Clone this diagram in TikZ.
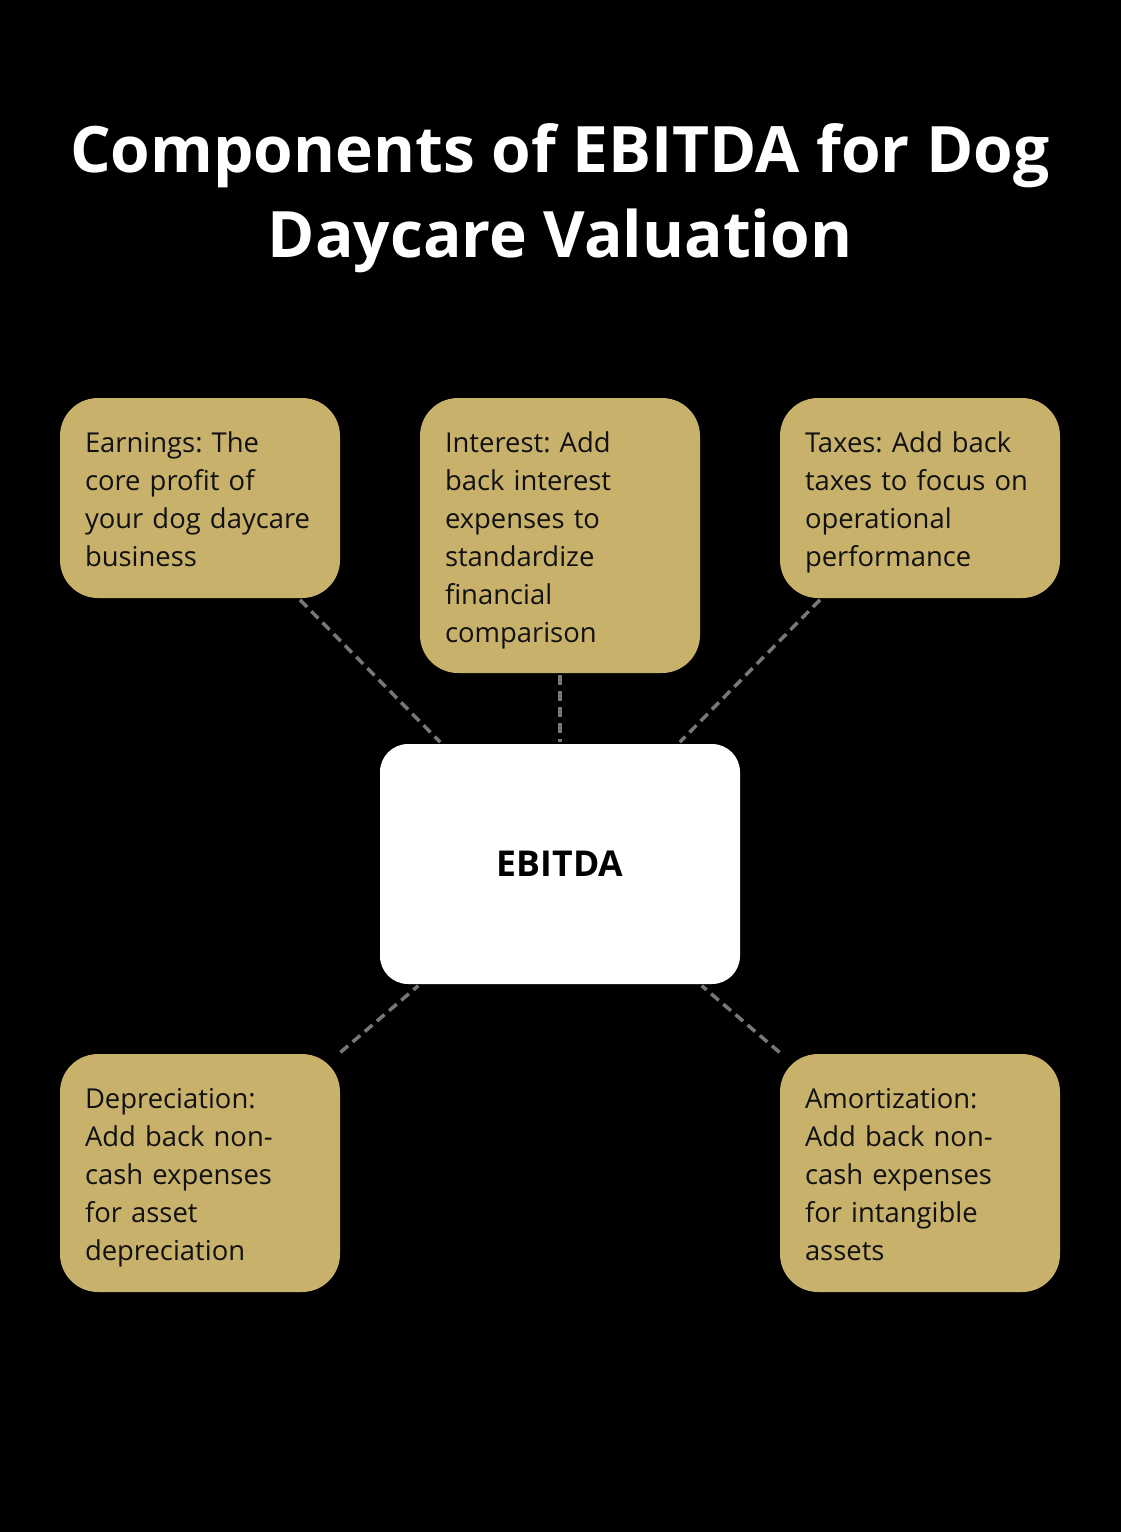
\documentclass[tikz,border=0pt]{standalone}
\usepackage{fontspec}
\setmainfont{Open Sans}
\frenchspacing
\definecolor{gold}{HTML}{C8B16B}
\definecolor{ink}{HTML}{111111}
\definecolor{dashgray}{HTML}{777777}
\def\topstrut{\rule{0pt}{17.3pt}}
\tikzset{
  part/.style = {fill=gold,text=ink,rounded corners=19pt,align=left,
    text width=115pt,inner xsep=12.5pt,inner ysep=0pt,minimum width=140pt,
    font=\fontsize{13.7}{19}\selectfont},
  core/.style = {fill=white,text=black,rounded corners=14pt,
    minimum width=180pt,minimum height=120pt,
    font=\bfseries\fontsize{17.8}{22}\selectfont},
  link/.style = {draw=dashgray,line width=1.75pt,dash pattern=on 5pt off 3pt,
    shorten <=1pt,shorten >=1pt}
}

\begin{document}
\begin{tikzpicture}[x=0.5pt,y=-0.5pt]
  % background
  \useasboundingbox (0,0) rectangle (1120,1532);
  \fill[black] (-20,-20) rectangle (1140,1552);
  % title
  \node[text=white,align=center,font=\bfseries\fontsize{32}{42.5}\selectfont] (title) at (560,198)
    {Components of EBITDA for Dog\\Daycare Valuation};
  % centre
  \node[core] (ebitda) at (560,864) {EBITDA};
  % top row
  \node[part,minimum height=100pt] (earnings) at (200,498)
    {\topstrut Earnings: The\\core profit of\\your dog daycare\\business\strut};
  \node[part,minimum height=137.5pt] (interest) at (560,535.5)
    {\topstrut Interest: Add\\back interest\\expenses to\\standardize\\financial\\comparison\strut};
  \node[part,minimum height=100pt] (taxes) at (920,498)
    {\topstrut Taxes: Add back\\taxes to focus on\\operational\\performance\strut};
  % bottom row
  \node[part,minimum height=119pt] (depreciation) at (200,1173)
    {\topstrut Depreciation:\\Add back non-\\cash expenses\\for asset\\depreciation\strut};
  \node[part,minimum height=119pt] (amortization) at (920,1173)
    {\topstrut Amortization:\\Add back non-\\cash expenses\\for intangible\\assets\strut};
  % links
  \foreach \X in {earnings,interest,taxes,depreciation,amortization} { \draw[link] (\X) -- (ebitda); };
\end{tikzpicture}
\end{document}
